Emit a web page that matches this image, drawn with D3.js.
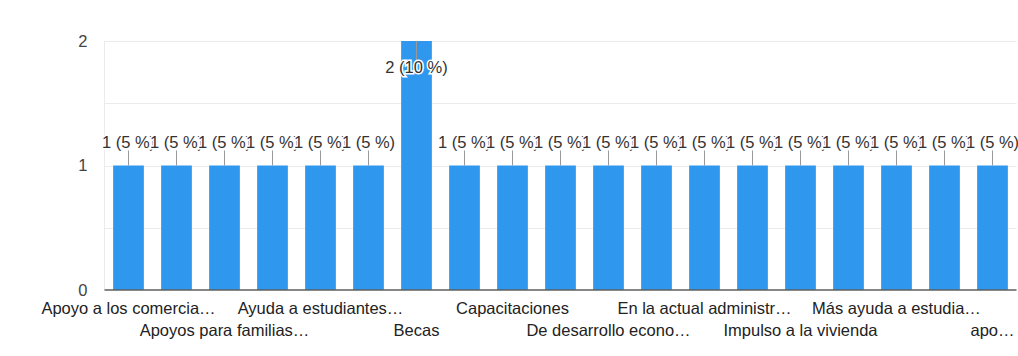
<!DOCTYPE html>
<html>
<head>
<meta charset="utf-8">
<script src="https://cdn.jsdelivr.net/npm/d3@7"></script>
<style>
  html, body { margin: 0; padding: 0; background: #fff; }
  svg { display: block; font-family: "Liberation Sans", Arial, sans-serif; }
</style>
</head>
<body>
<svg id="chart" width="1018" height="356"></svg>
<script>
// Responses per category (alphabetical order)
const categories = [
  "Apoyo a los comercia…", "Apoyo al campo", "Apoyos para familias…",
  "Atención a la salud", "Ayuda a estudiantes…", "Ayuda económica",
  "Becas", "Becas para universitarios", "Capacitaciones",
  "Creación de empleos", "De desarrollo econo…", "Empleo",
  "En la actual administr…", "Fomento al deporte", "Impulso a la vivienda",
  "Infraestructura", "Más ayuda a estudia…", "Seguridad", "apo…"
];
const counts = [1, 1, 1, 1, 1, 1, 2, 1, 1, 1, 1, 1, 1, 1, 1, 1, 1, 1, 1];
const yTicks = [0, 1, 2];
const yGrid = [0.5, 1, 1.5, 2];

(function draw() {
  const total = d3.sum(counts);
  const data = categories.map((c, i) => ({ cat: c, value: counts[i], idx: i }));

  const plotLeft = 104.5, plotRight = 1016.5, plotTop = 41, plotBottom = 290;
  const fontSize = 16.5;

  const svg = d3.select("#chart");

  const x = d3.scaleBand()
    .domain(categories)
    .range([plotLeft, plotRight])
    .paddingInner(0.36)
    .paddingOuter(0.18);

  const y = d3.scaleLinear().domain([0, 2]).range([plotBottom, plotTop]);

  // Horizontal gridlines
  svg.append("g")
    .selectAll("line")
    .data(yGrid)
    .join("line")
    .attr("x1", plotLeft).attr("x2", plotRight)
    .attr("y1", d => Math.round(y(d)) + 0.5)
    .attr("y2", d => Math.round(y(d)) + 0.5)
    .attr("stroke", "#ebebeb")
    .attr("stroke-width", 1);

  // Left border of plot area
  svg.append("line")
    .attr("x1", plotLeft).attr("x2", plotLeft)
    .attr("y1", plotTop).attr("y2", plotBottom)
    .attr("stroke", "#ebebeb");

  // Y axis labels
  const yAxis = d3.axisLeft(y).tickValues(yTicks).tickFormat(d3.format("d")).tickSize(0).tickPadding(17);
  const gy = svg.append("g").attr("transform", `translate(${plotLeft},0)`).call(yAxis);
  gy.select(".domain").remove();
  gy.selectAll("text")
    .attr("font-size", fontSize)
    .attr("font-family", "'Liberation Sans', Arial, sans-serif")
    .attr("fill", "#444");

  // Bars
  svg.append("g")
    .selectAll("rect")
    .data(data)
    .join("rect")
    .attr("x", d => x(d.cat))
    .attr("width", x.bandwidth())
    .attr("y", d => y(d.value))
    .attr("height", d => y(0) - y(d.value))
    .attr("fill", "#3097ef");

  // Baseline
  svg.append("line")
    .attr("x1", plotLeft).attr("x2", plotRight)
    .attr("y1", y(0)).attr("y2", y(0))
    .attr("stroke", "#5f5f5f")
    .attr("stroke-width", 1.5);

  // Value labels with leader lines
  const fmtLabel = d => `${d.value} (${Math.round(d.value / total * 100)} %)`;
  const maxVal = d3.max(counts);
  const lab = svg.append("g");
  data.forEach(d => {
    const cx = x(d.cat) + x.bandwidth() / 2;
    const yt = y(d.value);
    const inside = d.value === maxVal;
    const base = inside ? yt + 32 : yt - 18;
    const l1 = inside ? yt : yt - 15;
    const l2 = inside ? yt + 19 : yt;
    lab.append("line")
      .attr("x1", cx).attr("x2", cx)
      .attr("y1", l1).attr("y2", l2)
      .attr("stroke", "#999").attr("stroke-width", 1);
    lab.append("text")
      .attr("x", cx).attr("y", base)
      .attr("text-anchor", "middle")
      .attr("font-size", fontSize)
      .attr("fill", "#333")
      .attr("stroke", "#fff").attr("stroke-width", 3)
      .attr("paint-order", "stroke")
      .text(fmtLabel(d));
  });

  // X axis labels: every other category, staggered over two rows
  const xl = svg.append("g");
  data.filter(d => d.idx % 2 === 0).forEach(d => {
    const row = (d.idx / 2) % 2;
    xl.append("text")
      .attr("x", x(d.cat) + x.bandwidth() / 2)
      .attr("y", row === 0 ? 314 : 336)
      .attr("text-anchor", "middle")
      .attr("font-size", fontSize)
      .attr("fill", "#222")
      .text(d.cat);
  });
})();
</script>
</body>
</html>
